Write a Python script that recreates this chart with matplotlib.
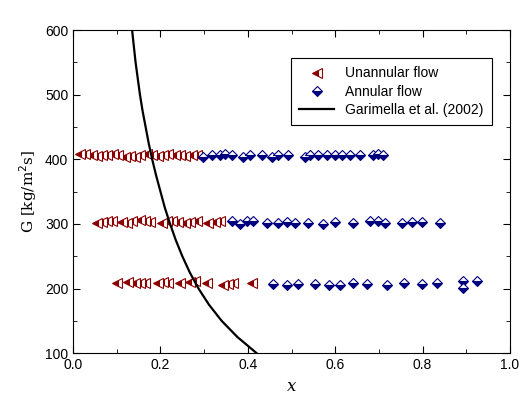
import matplotlib
matplotlib.use("Agg")
import matplotlib.pyplot as plt
import numpy as np

plt.rcParams['font.family'] = ['Liberation Sans', 'DejaVu Sans']

un400_x = [.016,.027,.043,.055,.066,.078,.092,.103,.119,.130,.142,.153,.169,.180,.194,.206,.217,.233,.245,.256,.272,.284]
un400_g = [409,408,407,405,406,407,408,406,404,405,403,407,408,406,405,407,408,406,407,405,406,407]
an400_x = [.297,.318,.336,.348,.364,.389,.405,.432,.455,.469,.492,.531,.542,.561,.581,.600,.616,.634,.657,.686,.698,.709]
an400_g = [403,407,407,408,406,403,407,407,404,406,407,403,406,407,407,407,407,406,406,406,408,407]
un300_x = [.055,.066,.078,.089,.112,.124,.135,.153,.165,.176,.204,.215,.227,.240,.256,.268,.284,.309,.325,.336]
un300_g = [302,303,304,305,303,302,304,306,304,303,302,304,305,303,302,303,304,302,303,304]
an300_x = [.364,.382,.398,.412,.444,.469,.490,.508,.538,.572,.600,.641,.680,.698,.714,.753,.776,.799,.840]
an300_g = [304,300,304,304,302,302,303,302,302,300,303,301,304,305,302,302,303,303,302]
un200_x = [.10,.126,.142,.153,.165,.194,.206,.217,.245,.268,.279,.307,.343,.355,.366,.410]
un200_g = [209,210,209,208,208,209,210,209,208,210,211,208,206,207,208,208]
an200_x = [.458,.490,.515,.554,.586,.611,.641,.673,.719,.757,.799,.833,.892,.892,.924]
an200_g = [207,206,207,207,206,206,209,207,206,208,207,208,212,201,212]
cur_g = [600,575,550,525,500,475,450,425,400,375,350,325,300,275,250,225,200,175,150,125,100]
cur_x = [.135,.139,.143,.148,.153,.159,.166,.173,.181,.190,.200,.210,.222,.235,.250,.267,.287,.311,.340,.376,.420]

fig = plt.figure(figsize=(5.3,4.13), dpi=100)
ax = fig.add_axes([0.138,0.145,0.824,0.782])
red = '#8b0000'; navy = '#00007f'
ukw = dict(linestyle='none', marker='<', markersize=6.5, fillstyle='left', color=red,
           markerfacecoloralt='white', markeredgecolor=red, markeredgewidth=0.8)
akw = dict(linestyle='none', marker='D', markersize=5.5, fillstyle='bottom', color=navy,
           markerfacecoloralt='white', markeredgecolor=navy, markeredgewidth=0.8)
ax.plot(un400_x, un400_g, label='Unannular flow', **ukw)
ax.plot(un300_x, un300_g, **ukw)
ax.plot(un200_x, un200_g, **ukw)
ax.plot(an400_x, an400_g, label='Annular flow', **akw)
ax.plot(an300_x, an300_g, **akw)
ax.plot(an200_x, an200_g, **akw)
ax.plot(cur_x, cur_g, color='black', lw=1.6, label='Garimella et al. (2002)')
ax.set_xlim(0,1); ax.set_ylim(100,600)
ax.set_xticks(np.arange(0,1.01,0.2)); ax.set_yticks(range(100,601,100))
ax.xaxis.set_minor_locator(matplotlib.ticker.MultipleLocator(0.1))
ax.yaxis.set_minor_locator(matplotlib.ticker.MultipleLocator(50))
ax.tick_params(which='both', direction='in', top=True, right=True, labelsize=10)
ax.tick_params(which='minor', length=3)
ax.tick_params(which='major', length=5)
ax.set_xlabel('x', family='DejaVu Serif', style='italic', fontsize=12)
ax.set_ylabel('G [kg/m$^2$s]', family='DejaVu Serif', fontsize=11)
leg = ax.legend(loc='upper right', bbox_to_anchor=(0.975,0.935), fontsize=10, fancybox=False,
                edgecolor='black', framealpha=1, handlelength=2.5, borderpad=0.6, labelspacing=0.3)
leg.get_frame().set_linewidth(0.8)
fig.savefig('out.png')
